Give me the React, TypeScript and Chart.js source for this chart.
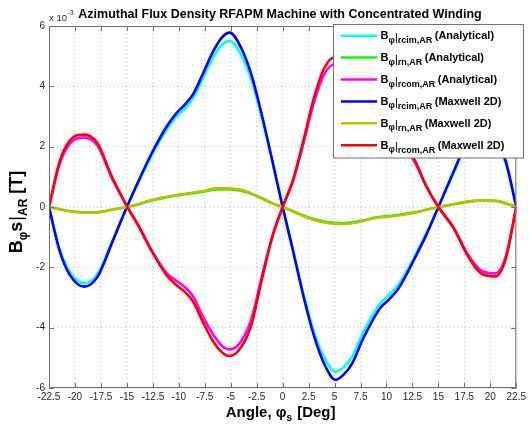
import React, { useEffect, useRef } from "react";
import { Chart, registerables } from "chart.js";

Chart.register(...registerables);

// Stator angle samples [deg]
const angles = [
  -22.5, -21.5, -20.5, -19.1, -17.8, -16.5, -15, -13.8, -12.8, -11.2, -10.2, -9.4, -8.6, -7.7, -6.7, -5.9, -5.1, -4, -3, -2, -1,
  0,
  1, 2, 3, 4, 5.1, 5.9, 6.7, 7.7, 8.6, 9.4, 10.2, 11.2, 12.8, 13.8, 15, 16.5, 17.8, 19.1, 20.5, 21.5, 22.5,
];

// Azimuthal flux density, in units of 1e-3 T
const rcimAnalytical = [
  0, -1.36, -2.15, -2.53, -2.2, -1.2, 0, 0.88, 1.58, 2.55, 3.0, 3.27, 3.62, 4.25, 4.95, 5.36, 5.5, 5.05, 4.2, 2.95, 1.5,
  0,
  -1.42, -2.88, -4.12, -4.98, -5.46, -5.3, -4.95, -4.2, -3.62, -3.2, -2.93, -2.55, -1.58, -0.9, 0, 1.15, 2.1, 2.5, 2.15, 1.43, 0,
];
const rnAnalytical = [
  0, -0.07, -0.13, -0.18, -0.17, -0.09, 0, 0.09, 0.2, 0.32, 0.38, 0.42, 0.46, 0.5, 0.57, 0.59, 0.58, 0.54, 0.43, 0.28, 0.12,
  0,
  -0.14, -0.28, -0.4, -0.48, -0.52, -0.53, -0.51, -0.45, -0.37, -0.33, -0.3, -0.26, -0.17, -0.09, 0, 0.09, 0.17, 0.21, 0.2, 0.12, 0,
];
const rcomAnalytical = [
  0, 1.4, 2.1, 2.3, 2.02, 1.0, 0.03, -0.66, -1.32, -2.18, -2.45, -2.66, -2.98, -3.62, -4.22, -4.58, -4.72, -4.45, -3.7, -2.3, -0.98,
  0,
  0.86, 2.1, 3.45, 4.4, 4.74, 4.58, 4.2, 3.62, 3.08, 2.76, 2.52, 2.27, 1.44, 0.7, 0, -0.7, -1.55, -2.1, -2.2, -1.63, 0,
];
const rcimMaxwell = [
  0, -1.43, -2.25, -2.64, -2.3, -1.25, 0, 0.92, 1.65, 2.65, 3.12, 3.4, 3.75, 4.4, 5.15, 5.6, 5.78, 5.28, 4.38, 3.05, 1.55,
  0,
  -1.45, -2.95, -4.25, -5.2, -5.73, -5.55, -5.18, -4.4, -3.8, -3.35, -3.08, -2.68, -1.65, -0.95, 0, 1.2, 2.2, 2.6, 2.25, 1.5, 0,
];
const rnMaxwell = [
  0, -0.08, -0.14, -0.19, -0.18, -0.1, 0, 0.1, 0.22, 0.34, 0.4, 0.44, 0.48, 0.53, 0.61, 0.63, 0.61, 0.57, 0.45, 0.3, 0.13,
  0,
  -0.15, -0.3, -0.43, -0.51, -0.55, -0.56, -0.54, -0.47, -0.39, -0.35, -0.32, -0.28, -0.18, -0.1, 0, 0.1, 0.18, 0.22, 0.21, 0.13, 0,
];
const rcomMaxwell = [
  0, 1.48, 2.2, 2.4, 2.1, 1.05, 0.03, -0.68, -1.35, -2.25, -2.6, -2.82, -3.15, -3.8, -4.45, -4.8, -4.94, -4.65, -3.9, -2.4, -1.0,
  0,
  0.9, 2.2, 3.6, 4.6, 4.97, 4.8, 4.4, 3.8, 3.25, 2.92, 2.66, 2.38, 1.5, 0.72, 0, -0.72, -1.6, -2.2, -2.3, -1.7, 0,
];

const xTicks = [-22.5, -20, -17.5, -15, -12.5, -10, -7.5, -5, -2.5, 0, 2.5, 5, 7.5, 10, 12.5, 15, 17.5, 20, 22.5];
const yTicks = [-6, -4, -2, 0, 2, 4, 6];

const seriesSubs = ["rcim,AR", "rn,AR", "rcom,AR", "rcim,AR", "rn,AR", "rcom,AR"];
const seriesTags = ["(Analytical)", "(Analytical)", "(Analytical)", "(Maxwell 2D)", "(Maxwell 2D)", "(Maxwell 2D)"];
const seriesColors = ["#00ffff", "#00ff00", "#ff00ff", "#0000ff", "#bfbf00", "#ff0000"];
const seriesValues = [rcimAnalytical, rnAnalytical, rcomAnalytical, rcimMaxwell, rnMaxwell, rcomMaxwell];

const chartTitle = "Azimuthal Flux Density RFAPM Machine with Concentrated Winding";

const FONT = '"Liberation Sans", Arial, Helvetica, sans-serif';

type Piece = { t: string; size: number; dy: number; bold?: boolean; gap?: number };

function fontOf(p: Piece) {
  return `${p.bold === false ? "" : "bold "}${p.size}px ${FONT}`;
}

function piecesWidth(ctx: CanvasRenderingContext2D, pieces: Piece[]) {
  let w = 0;
  for (const p of pieces) {
    ctx.font = fontOf(p);
    w += ctx.measureText(p.t).width + (p.gap || 0);
  }
  return w;
}

function drawPieces(ctx: CanvasRenderingContext2D, pieces: Piece[], x: number, y: number) {
  let cx = x;
  for (const p of pieces) {
    ctx.font = fontOf(p);
    ctx.fillText(p.t, cx, y + p.dy);
    cx += ctx.measureText(p.t).width + (p.gap || 0);
  }
  return cx;
}

const decorPlugin = {
  id: "decor",
  afterDraw(chart: any) {
    const ctx: CanvasRenderingContext2D = chart.ctx;
    const { left, right, top, bottom } = chart.chartArea;
    const xs = chart.scales.x;
    const ys = chart.scales.y;
    ctx.save();

    // axes box and inward tick marks
    ctx.strokeStyle = "#707070";
    ctx.lineWidth = 1;
    ctx.strokeRect(left + 0.5, top + 0.5, right - left - 1, bottom - top - 1);
    ctx.beginPath();
    for (const v of xTicks) {
      const px = Math.round(xs.getPixelForValue(v)) + 0.5;
      ctx.moveTo(px, bottom);
      ctx.lineTo(px, bottom - 5);
      ctx.moveTo(px, top);
      ctx.lineTo(px, top + 5);
    }
    for (const v of yTicks) {
      const py = Math.round(ys.getPixelForValue(v)) + 0.5;
      ctx.moveTo(left, py);
      ctx.lineTo(left + 5, py);
      ctx.moveTo(right, py);
      ctx.lineTo(right - 5, py);
    }
    ctx.stroke();

    ctx.fillStyle = "#000";
    ctx.textBaseline = "alphabetic";
    ctx.textAlign = "left";

    // title
    ctx.font = `bold 12.5px ${FONT}`;
    const tw = ctx.measureText(chartTitle).width;
    ctx.fillText(chartTitle, 280 - tw / 2, 17.5);

    // exponent marker
    ctx.fillStyle = "#262626";
    ctx.font = `9.5px ${FONT}`;
    ctx.fillText("x 10", left, 20.5);
    const ew = ctx.measureText("x 10").width;
    ctx.font = `7px ${FONT}`;
    ctx.fillText("-3", left + ew + 0.5, 15);

    // x axis title
    ctx.fillStyle = "#000";
    const xt: Piece[] = [
      { t: "Angle, ", size: 15, dy: 0 },
      { t: "φ", size: 15, dy: 0 },
      { t: "s", size: 10, dy: 4.5, gap: 1 },
      { t: " [Deg]", size: 15, dy: 0 },
    ];
    const xw = piecesWidth(ctx, xt);
    drawPieces(ctx, xt, (left + right) / 2 - 2 - xw / 2, 416.5);

    // y axis title (rotated)
    const yt: Piece[] = [
      { t: "B", size: 18, dy: 0 },
      { t: "φ", size: 12, dy: 4.5 },
      { t: "s", size: 18, dy: 0, gap: 1 },
      { t: "|", size: 18, dy: 0, bold: false },
      { t: "AR", size: 12, dy: 5 },
      { t: " [T]", size: 18, dy: 0 },
    ];
    const yw = piecesWidth(ctx, yt);
    ctx.save();
    ctx.translate(22, 212);
    ctx.rotate(-Math.PI / 2);
    drawPieces(ctx, yt, -yw / 2, 0);
    ctx.restore();

    // legend
    const lx = 333.5, ly = 24.5, lw = 190, lh = 133.5;
    ctx.fillStyle = "#fff";
    ctx.fillRect(lx, ly, lw, lh);
    ctx.strokeStyle = "#707070";
    ctx.lineWidth = 1;
    ctx.strokeRect(lx, ly, lw, lh);
    seriesColors.forEach((c, i) => {
      const ry = 35.7 + i * 21.9;
      ctx.strokeStyle = c;
      ctx.lineWidth = 2.5;
      ctx.beginPath();
      ctx.moveTo(341, ry);
      ctx.lineTo(377, ry);
      ctx.stroke();
      ctx.fillStyle = "#000";
      const row: Piece[] = [
        { t: "B", size: 11, dy: 3.5 },
        { t: "φ", size: 9, dy: 7 },
        { t: "|", size: 11, dy: 5, bold: false },
        { t: seriesSubs[i], size: 9, dy: 7.5, gap: 2.5 },
        { t: seriesTags[i], size: 11, dy: 3.5 },
      ];
      drawPieces(ctx, row, 380.5, ry);
    });

    ctx.restore();
  },
};

export default function App() {
  const canvasRef = useRef<HTMLCanvasElement | null>(null);

  useEffect(() => {
    const canvas = canvasRef.current;
    if (!canvas) return;
    const order = [6, 5, 4, 3, 2, 1];
    const chart = new Chart(canvas, {
      type: "line",
      data: {
        datasets: seriesValues.map((vals, i) => ({
          label: `${seriesSubs[i]} ${seriesTags[i]}`,
          data: angles.map((a, k) => ({ x: a, y: vals[k] })),
          borderColor: seriesColors[i],
          backgroundColor: seriesColors[i],
          borderWidth: 2.6,
          pointRadius: 0,
          cubicInterpolationMode: "monotone",
          fill: false,
          order: order[i],
        })),
      },
      options: {
        animation: false,
        responsive: false,
        devicePixelRatio: 1,
        events: [],
        layout: { padding: { left: 0, right: 11, top: 26, bottom: 0 } },
        plugins: {
          legend: { display: false },
          title: { display: false },
          tooltip: { enabled: false },
        },
        scales: {
          x: {
            type: "linear",
            min: -22.5,
            max: 22.5,
            afterBuildTicks: (s: any) => {
              s.ticks = xTicks.map((v) => ({ value: v }));
            },
            afterFit: (s: any) => {
              s.height = 39;
            },
            ticks: {
              autoSkip: false,
              maxRotation: 0,
              padding: 3,
              color: "#262626",
              font: { family: FONT, size: 10 },
              callback: (v: any) => String(v),
            },
            grid: { color: "#c4c4c4", lineWidth: 1, drawTicks: false },
            border: { display: false, dash: [1, 3] },
          },
          y: {
            type: "linear",
            min: -6,
            max: 6,
            afterBuildTicks: (s: any) => {
              s.ticks = yTicks.map((v) => ({ value: v }));
            },
            afterFit: (s: any) => {
              s.width = 49;
            },
            ticks: {
              padding: 4,
              color: "#262626",
              font: { family: FONT, size: 10 },
              callback: (v: any) => String(v),
            },
            grid: { color: "#c4c4c4", lineWidth: 1, drawTicks: false },
            border: { display: false, dash: [1, 3] },
          },
        },
      },
      plugins: [decorPlugin],
    } as any);
    return () => chart.destroy();
  }, []);

  return (
    <div style={{ position: "absolute", left: 0, top: 0, width: 529, height: 427, background: "#fff" }}>
      <canvas ref={canvasRef} width={529} height={427} style={{ display: "block", width: 529, height: 427 }} />
    </div>
  );
}
